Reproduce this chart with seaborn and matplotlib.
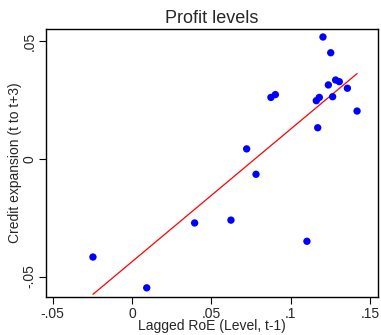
import matplotlib
matplotlib.use("Agg")
import matplotlib.pyplot as plt
import seaborn as sns
import pandas as pd

roe = [-0.0246, 0.0093, 0.0395, 0.0624, 0.0723, 0.0782, 0.0876, 0.0904, 0.1103, 0.1162,
       0.1171, 0.1181, 0.1204, 0.1238, 0.1253, 0.1265, 0.1284, 0.1307, 0.1358, 0.1419]
credit = [-0.0417, -0.0548, -0.0272, -0.0260, 0.0043, -0.0065, 0.0262, 0.0274, -0.0350, 0.0248,
          0.0133, 0.0262, 0.0519, 0.0315, 0.0452, 0.0265, 0.0336, 0.0329, 0.0301, 0.0204]
xticks = [-0.05, 0, 0.05, 0.1, 0.15]
xticklabels = ["-.05", "0", ".05", ".1", ".15"]
yticks = [-0.05, 0, 0.05]
yticklabels = ["-.05", "0", ".05"]

df = pd.DataFrame({"roe": roe, "credit": credit})

sns.set_style("white")
plt.rcParams['font.family'] = ['Liberation Sans', 'DejaVu Sans']

fig = plt.figure(figsize=(3.81, 3.35), dpi=100)
ax = fig.add_axes([46/381, 1-297/335, (378-46)/381, (297-29)/335])

sns.scatterplot(data=df, x="roe", y="credit", ax=ax, color=(0, 0, 1), s=28,
                edgecolor="none", zorder=3)
sns.regplot(data=df, x="roe", y="credit", ax=ax, scatter=False, ci=None,
            color="red", line_kws={"linewidth": 0.9})

ax.set_xlim(-0.0542, 0.1551)
ax.set_ylim(-0.0587, 0.0553)
ax.set_xticks(xticks)
ax.set_xticklabels(xticklabels, fontsize=10)
ax.set_yticks(yticks)
ax.set_yticklabels(yticklabels, fontsize=10, rotation=90, va="center")
ax.tick_params(axis="both", direction="out", length=5, width=0.8, color="black",
               bottom=True, left=True, pad=2)
for sp in ax.spines.values():
    sp.set_color("black")
    sp.set_linewidth(1.0)
ax.set_xlabel("Lagged RoE (Level, t-1)", fontsize=10, labelpad=-1)
ax.set_ylabel("Credit expansion (t to t+3)", fontsize=10, labelpad=0)
ax.set_title("Profit levels", fontsize=13, pad=4)

fig.savefig("out.png", dpi=100)
